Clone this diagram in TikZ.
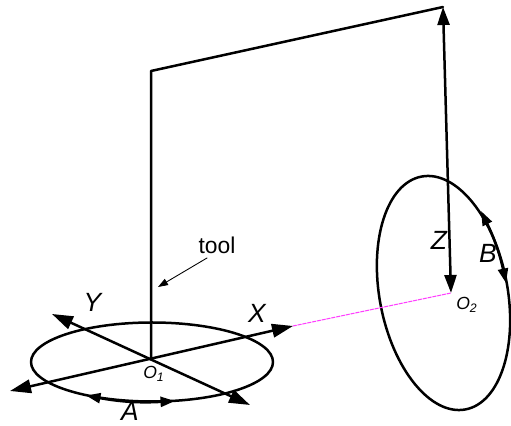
\documentclass[tikz,border=0pt]{standalone}
\usepackage{fontspec}
\setmainfont{Liberation Sans}
\usetikzlibrary{arrows.meta}
\definecolor{FigureMagenta}{HTML}{FF40FF}
\tikzset{
  axisline/.style={line width=.05cm,{Triangle[length=.42cm,width=.27cm]}-{Triangle[length=.42cm,width=.27cm]}},
  zline/.style={line width=.05cm,{Triangle[length=.36cm,width=.24cm]}-{Triangle[length=.36cm,width=.24cm]}},
  arcline/.style={line width=.05cm,{Triangle[length=.29cm,width=.2cm]}-{Triangle[length=.29cm,width=.2cm]}},
  axislabel/.style={inner sep=0pt,font=\fontsize{15}{15}\selectfont\itshape},
  originlabel/.style={inner sep=0pt,font=\fontsize{10}{10}\selectfont\itshape},
}

\begin{document}
\begin{tikzpicture}[line cap=round,line join=round]
  \useasboundingbox (0,0) rectangle (10.22,8.52);
  \coordinate (o1) at (3.02,1.36); \coordinate (o2) at (9.02,2.66);
  \coordinate (corner) at (3.02,7.10); \coordinate (top) at (8.86,8.38);
  \coordinate (xplus) at (5.86,2.00); \coordinate (xminus) at (.20,.70);
  \coordinate (yplus) at (1.04,2.24); \coordinate (yminus) at (5.00,.42);
  \coordinate (aleft) at (1.72,.61); \coordinate (aright) at (3.50,.50);
  \coordinate (bup) at (9.62,4.30); \coordinate (bdown) at (10.12,2.86);
  \coordinate (toolstart) at (4.14,3.36); \coordinate (toolend) at (3.16,2.78);
  % the two circles
  \draw[line width=.05cm] (3.04,1.28) ellipse [x radius=2.42,y radius=.79];
  \draw[line width=.05cm] (8.87,2.66) ellipse [x radius=2.37,y radius=1.28,rotate=-79.3];
  % tool and frame
  \draw[line width=.05cm] (o1)--(corner)--(top);
  \draw[zline] (top)--(o2);
  % axes
  \draw[axisline] (xminus)--(xplus);
  \draw[axisline] (yplus)--(yminus);
  \draw[arcline] (aleft) to[bend right=7] (aright);
  \draw[arcline] (bup) to[bend left=7] (bdown);
  \draw[FigureMagenta,line width=.6pt,dash pattern=on 2pt off .8pt] (xplus)--(o2);
  % labels
  \node[axislabel] (xlabel) at (5.14,2.26) {X};
  \node[axislabel] (ylabel) at (1.85,2.48) {Y};
  \node[axislabel] (zlabel) at (8.78,3.72) {Z};
  \node[axislabel] (alabel) at (2.60,.30) {A};
  \node[axislabel] (blabel) at (9.76,3.46) {B};
  \node[originlabel] (o1label) at (3.08,1.04) {O\textsubscript{1}};
  \node[originlabel] (o2label) at (9.34,2.42) {O\textsubscript{2}};
  \node[inner sep=0pt,font=\fontsize{13}{13}\selectfont] (tool) at (4.34,3.62) {tool};
  \draw[-{Triangle[length=.2cm,width=.14cm]},line width=.5pt] (toolstart)--(toolend);
\end{tikzpicture}
\end{document}
